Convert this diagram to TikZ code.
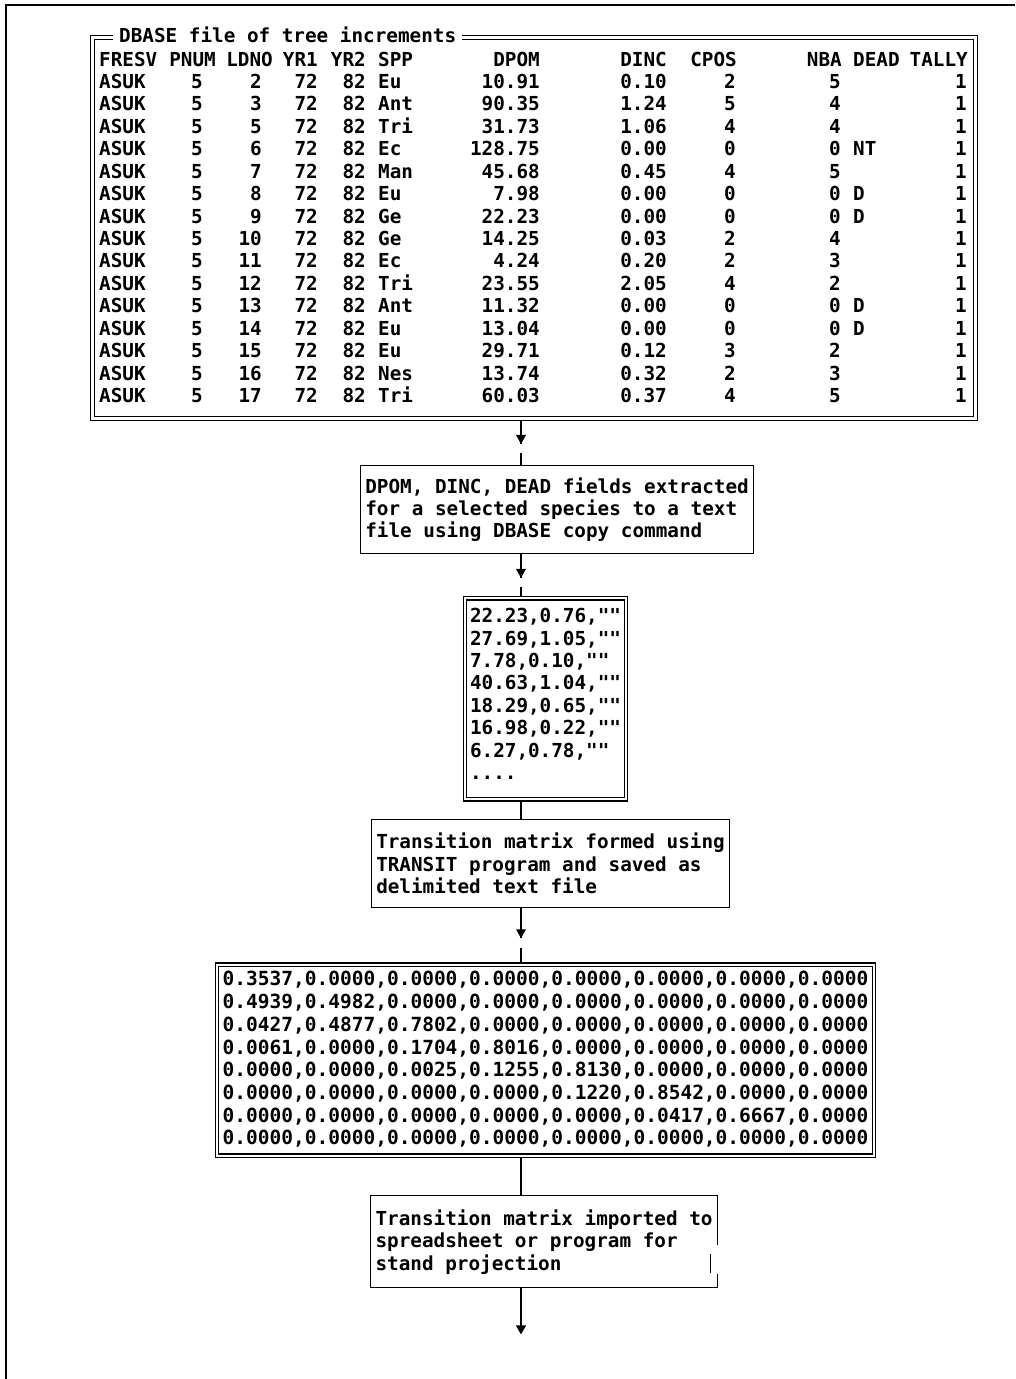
\documentclass[tikz,border=0pt]{standalone}
\usepackage{fontspec}
\setmonofont{DejaVu Sans Mono}
\usepackage{tikz}
\usetikzlibrary{arrows.meta, positioning, backgrounds, decorations.markings}

\newcommand{\boxfont}{\fontsize{19.3pt}{22.4pt}\selectfont\ttfamily\bfseries}
\newcommand{\matfont}{\fontsize{19.5pt}{22.7pt}\selectfont\ttfamily\bfseries}

\begin{document}
\begin{tikzpicture}[
  x=1pt, y=-1pt,
  box/.style = {draw, line width=1.2pt, align=left, font=\boxfont,
                inner xsep=5pt, inner ysep=0pt},
  dblbox/.style = {box, double, double distance=2.2pt, line width=1.1pt},
  cell/.style = {inner sep=0pt, font=\boxfont},
  link/.style = {line width=1.2pt},
  flow/.style = {link, postaction={decorate}, decoration={markings,
      mark=at position 0.53 with {\fill[white] (0.5pt,-2pt) rectangle (10pt,2pt);
                                  \fill (0.5pt,0pt) -- (-8.5pt,5pt) -- (-8.5pt,-5pt) -- cycle;}}}
]
  \useasboundingbox (0,0) rectangle (1015,1379);
  \draw[line width=2.5pt] (6,1379) -- (6,5) -- (1015,5);
  \coordinate (spine) at (521,0);

  % dbase table
  \node[dblbox, minimum width=883pt, minimum height=381pt, anchor=north west] (tbl) at (92,37) {};
  \node[cell, fill=white, inner xsep=6pt, inner ysep=3pt, anchor=base west] (ttl) at (113,42)
    {DBASE file of tree increments};
  \foreach \hd/\hx/\ha in {FRESV/99/west, PNUM/216/east, LDNO/273/east, YR1/318/east,
      YR2/366/east, SPP/378/west, DPOM/540/east, DINC/667/east, CPOS/737/east,
      NBA/842/east, DEAD/853/west, TALLY/968/east}
    \node[cell, anchor=base \ha] (h-\hd) at (\hx,66) {\hd};
  \foreach \ldno/\spec/\dpom/\dinc/\cpos/\nba/\dead [count=\row] in {
      2/Eu/10.91/0.10/2/5/{}, 3/Ant/90.35/1.24/5/4/{}, 5/Tri/31.73/1.06/4/4/{},
      6/Ec/128.75/0.00/0/0/NT, 7/Man/45.68/0.45/4/5/{}, 8/Eu/7.98/0.00/0/0/D,
      9/Ge/22.23/0.00/0/0/D, 10/Ge/14.25/0.03/2/4/{}, 11/Ec/4.24/0.20/2/3/{},
      12/Tri/23.55/2.05/4/2/{}, 13/Ant/11.32/0.00/0/0/D, 14/Eu/13.04/0.00/0/0/D,
      15/Eu/29.71/0.12/3/2/{}, 16/Nes/13.74/0.32/2/3/{}, 17/Tri/60.03/0.37/4/5/{}} {
    \pgfmathsetmacro{\ry}{88.5+22.43*(\row-1)}
    \node[cell, anchor=base west] (r\row-fresv) at (99,\ry)  {ASUK};
    \node[cell, anchor=base east] (r\row-pnum)  at (203,\ry) {5};
    \node[cell, anchor=base east] (r\row-ldno)  at (262,\ry) {\ldno};
    \node[cell, anchor=base east] (r\row-yr1)   at (318,\ry) {72};
    \node[cell, anchor=base east] (r\row-yr2)   at (366,\ry) {82};
    \node[cell, anchor=base west] (r\row-spp)   at (378,\ry) {\spec};
    \node[cell, anchor=base east] (r\row-dpom)  at (540,\ry) {\dpom};
    \node[cell, anchor=base east] (r\row-dinc)  at (667,\ry) {\dinc};
    \node[cell, anchor=base east] (r\row-cpos)  at (736,\ry) {\cpos};
    \node[cell, anchor=base east] (r\row-nba)   at (841,\ry) {\nba};
    \node[cell, anchor=base west] (r\row-dead)  at (853,\ry) {\dead};
    \node[cell, anchor=base east] (r\row-tally) at (967,\ry) {1};
  }

  % processing steps
  \node[box, below=46pt of tbl, xshift=23pt, minimum height=88pt] (ext)
    {DPOM, DINC, DEAD fields extracted\\for a selected species to a text\\file using DBASE copy command};
  \node[dblbox, below=43.5pt of ext, xshift=-11.5pt, minimum height=201pt] (pts)
    {22.23,0.76,""\\27.69,1.05,""\\7.78,0.10,""\\40.63,1.04,""\\18.29,0.65,""\\16.98,0.22,""\\6.27,0.78,""\\
     ....\rule[-10pt]{0pt}{10pt}};
  \node[box, below=19pt of pts, xshift=5pt, minimum height=88pt] (trans)
    {Transition matrix formed using\\TRANSIT program and saved as\\delimited text file};
  \node[dblbox, below=56pt of trans, xshift=-5pt, minimum height=191pt, font=\matfont, inner xsep=5.5pt] (mat)
    {0.3537,0.0000,0.0000,0.0000,0.0000,0.0000,0.0000,0.0000\\
     0.4939,0.4982,0.0000,0.0000,0.0000,0.0000,0.0000,0.0000\\
     0.0427,0.4877,0.7802,0.0000,0.0000,0.0000,0.0000,0.0000\\
     0.0061,0.0000,0.1704,0.8016,0.0000,0.0000,0.0000,0.0000\\
     0.0000,0.0000,0.0025,0.1255,0.8130,0.0000,0.0000,0.0000\\
     0.0000,0.0000,0.0000,0.0000,0.1220,0.8542,0.0000,0.0000\\
     0.0000,0.0000,0.0000,0.0000,0.0000,0.0417,0.6667,0.0000\\
     0.0000,0.0000,0.0000,0.0000,0.0000,0.0000,0.0000,0.0000\rule[-4pt]{0pt}{4pt}};
  \node[box, below=39pt of mat, xshift=-1.5pt, minimum height=92pt] (proj)
    {Transition matrix imported to\\spreadsheet or program for\\stand projection};
  \draw[white, line width=3pt] ([yshift=-50pt]proj.north east) -- ([yshift=-79pt]proj.north east);
  \draw[link] ([xshift=-8pt,yshift=-59pt]proj.north east) -- ([xshift=-8pt,yshift=-78pt]proj.north east);
  \coordinate (end) at ([yshift=-46pt]proj.south -| spine);

  \begin{scope}[on background layer]
    \draw[flow] (tbl.south -| spine) -- (ext.north -| spine);
    \draw[flow] (ext.south -| spine) -- (pts.north -| spine);
    \draw[link] (pts.south -| spine) -- (trans.north -| spine);
    \draw[flow] (trans.south -| spine) -- (mat.north -| spine);
    \draw[link] (mat.south -| spine) -- (proj.north -| spine);
    \draw[link, -{Triangle[width=10pt, length=9pt]}] (proj.south -| spine) -- (end);
  \end{scope}
\end{tikzpicture}
\end{document}
